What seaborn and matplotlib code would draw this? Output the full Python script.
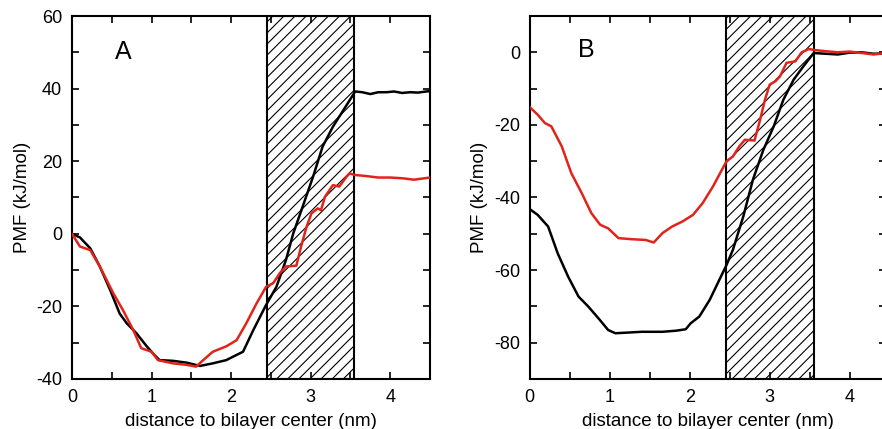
import matplotlib
matplotlib.use('Agg')
import matplotlib.pyplot as plt
from matplotlib.ticker import MultipleLocator
import seaborn as sns
import pandas as pd
import numpy as np

# panel A : PMF curves (kJ/mol) vs distance (nm)
a_black_x = [0.0, 0.1, 0.23, 0.35, 0.48, 0.6, 0.69, 0.81, 0.94, 1.02, 1.1, 1.27, 1.44, 1.61, 1.77, 1.94,
             2.03, 2.15, 2.28, 2.44, 2.57, 2.69, 2.78, 2.9, 3.03, 3.15, 3.28, 3.41, 3.56,
             3.65, 3.75, 3.85, 3.95, 4.05, 4.15, 4.25, 4.35, 4.45, 4.5]
a_black_y = [0.0, -1.0, -4.0, -9.0, -15.5, -22.0, -24.7, -27.4, -31.0, -33.0, -34.8, -35.0, -35.5, -36.4, -35.7, -34.8,
             -33.8, -32.5, -26.5, -19.6, -14.6, -7.2, 0.0, 7.5, 15.7, 24.0, 29.5, 34.0, 39.2,
             39.0, 38.5, 39.0, 39.0, 39.2, 38.8, 39.0, 38.9, 39.2, 39.3]

a_red_x = [0.0, 0.1, 0.23, 0.35, 0.52, 0.64, 0.77, 0.87, 1.0, 1.08, 1.27, 1.44, 1.56, 1.65, 1.77, 1.94,
           2.07, 2.19, 2.32, 2.44, 2.53, 2.61, 2.69, 2.82, 2.88, 2.95, 3.01, 3.09, 3.13, 3.18, 3.28,
           3.36, 3.45, 3.49, 3.56, 3.7, 3.85, 4.0, 4.15, 4.3, 4.4, 4.5]
a_red_y = [0.0, -3.5, -4.5, -9.0, -16.4, -21.0, -26.5, -31.5, -32.5, -34.8, -35.7, -36.1, -36.6, -34.8, -32.5, -31.0,
           -29.3, -24.7, -19.2, -14.6, -13.6, -10.9, -9.0, -8.8, -3.5, 2.0, 5.6, 7.0, 6.5, 10.2, 13.4,
           13.0, 15.7, 16.6, 16.2, 15.9, 15.5, 15.5, 15.3, 14.9, 15.2, 15.5]

# panel B
b_black_x = [0.0, 0.1, 0.23, 0.35, 0.48, 0.61, 0.73, 0.86, 0.98, 1.07, 1.24, 1.4, 1.66, 1.83, 1.95,
             2.01, 2.12, 2.25, 2.37, 2.46, 2.54, 2.67, 2.79, 2.92, 3.05, 3.17, 3.3, 3.42, 3.55,
             3.7, 3.85, 4.0, 4.15, 4.3, 4.45]
b_black_y = [-43.2, -44.8, -48.0, -55.4, -61.8, -67.3, -70.0, -73.3, -76.5, -77.4, -77.2, -77.0, -77.0, -76.7, -76.3,
             -74.7, -72.8, -68.2, -62.7, -58.6, -54.4, -45.2, -35.1, -26.9, -20.4, -13.1, -7.5, -3.9, -0.2,
             -0.4, -0.6, -0.1, 0.0, -0.4, -0.3]

b_red_x = [0.0, 0.1, 0.19, 0.27, 0.4, 0.52, 0.65, 0.77, 0.88, 0.98, 1.11, 1.28, 1.45, 1.55, 1.66, 1.78,
           1.91, 2.04, 2.16, 2.29, 2.46, 2.54, 2.62, 2.69, 2.81, 2.88, 2.94, 3.0, 3.07, 3.13, 3.21,
           3.32, 3.4, 3.49, 3.57, 3.7, 3.85, 4.0, 4.15, 4.3, 4.45]
b_red_y = [-15.1, -17.2, -19.5, -20.4, -25.9, -33.3, -38.8, -44.3, -47.5, -48.5, -51.2, -51.5, -51.7, -52.4, -49.8, -48.0,
           -46.6, -44.8, -41.6, -37.0, -30.0, -28.7, -25.9, -24.1, -24.3, -18.6, -13.1, -8.9, -8.0, -6.6, -2.9,
           -2.5, 0.0, 0.9, 0.6, 0.3, 0.0, 0.2, -0.2, -0.6, -0.2]

membrane = (2.45, 3.55)

sns.set_style('ticks')
plt.rcParams['font.family'] = ['Liberation Sans', 'DejaVu Sans']
plt.rcParams['hatch.linewidth'] = 0.8
plt.rcParams['axes.unicode_minus'] = False
plt.rcParams['text.color'] = 'black'
plt.rcParams['axes.labelcolor'] = 'black'
plt.rcParams['xtick.color'] = 'black'
plt.rcParams['ytick.color'] = 'black'
plt.rcParams['axes.edgecolor'] = 'black'

fig = plt.figure(figsize=(8.82, 4.29), dpi=100)
axA = fig.add_axes([0.0816, 0.1166, 0.4059, 0.8461])
axB = fig.add_axes([0.6006, 0.1166, 0.4036, 0.8461])

red = '#e2231a'

def panel(ax, bx, by, rx, ry, xlim, ylim, letter, lpos):
    ax.axvspan(membrane[0], membrane[1], facecolor='white', edgecolor='black', hatch='///', linewidth=1.5, zorder=0)
    sns.lineplot(x=bx, y=by, ax=ax, color='black', linewidth=1.8, zorder=3)
    sns.lineplot(x=rx, y=ry, ax=ax, color=red, linewidth=1.8, zorder=4)
    ax.set_xlim(xlim)
    ax.set_ylim(ylim)
    ax.xaxis.set_major_locator(MultipleLocator(1))
    ax.xaxis.set_minor_locator(MultipleLocator(0.5))
    ax.yaxis.set_major_locator(MultipleLocator(20))
    ax.yaxis.set_minor_locator(MultipleLocator(10))
    ax.tick_params(which='both', direction='in', top=True, right=True, labelsize=13, width=1.2, pad=7)
    ax.tick_params(which='major', length=5)
    ax.tick_params(which='minor', length=5)
    for s in ax.spines.values():
        s.set_linewidth(1.5)
        s.set_visible(True)
    ax.set_xlabel('distance to bilayer center (nm)', fontsize=13.5, labelpad=5)
    ax.set_ylabel('PMF (kJ/mol)', fontsize=13.5, labelpad=4)
    ax.text(lpos[0], lpos[1], letter, fontsize=18, ha='center', va='center')

panel(axA, a_black_x, a_black_y, a_red_x, a_red_y, (0, 4.5), (-40, 60), 'A', (0.64, 50))
panel(axB, b_black_x, b_black_y, b_red_x, b_red_y, (0, 4.45), (-90, 10), 'B', (0.71, 0.5))

plt.savefig('out.png', dpi=100)
